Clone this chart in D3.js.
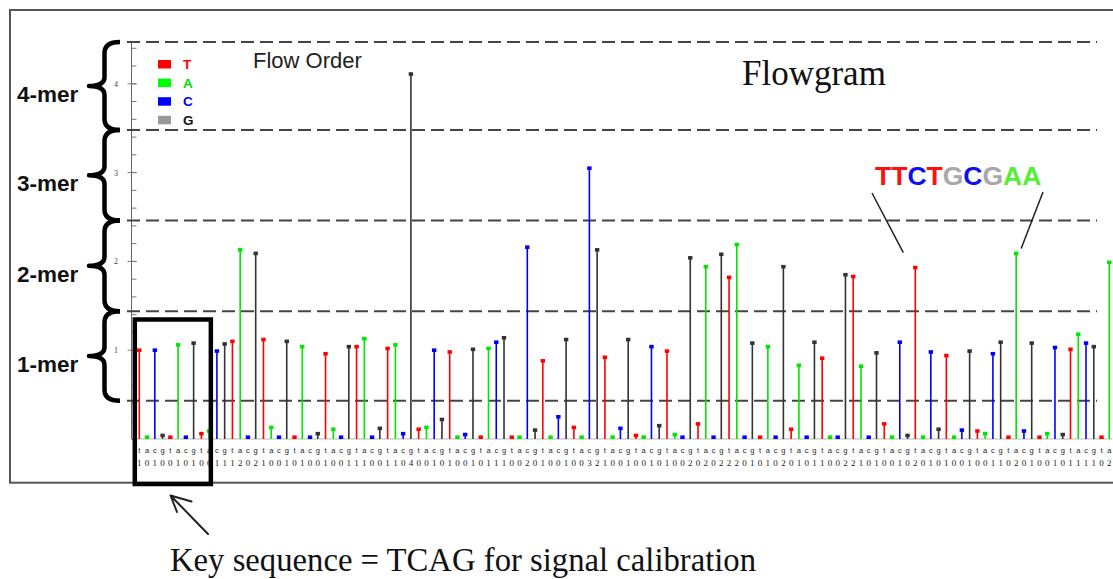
<!DOCTYPE html>
<html>
<head>
<meta charset="utf-8">
<script src="https://cdn.jsdelivr.net/npm/d3@7/dist/d3.min.js"></script>
<style>
  html, body { margin: 0; padding: 0; background: #fff; }
  svg { display: block; }
</style>
</head>
<body>
<svg id="chart" width="1113" height="579"></svg>
<script>
// Flow order of nucleotides (repeats every four flows)
const flowOrder = ["T", "A", "C", "G"];
const flowLetters = ["t", "a", "c", "g"];

// Measured signal intensity for each flow (126 flows)
const signal = [
  1.00, 0.02, 1.00, 0.04, 0.02, 1.06, 0.02, 1.08, 0.06, 0.09,
  0.99, 1.07, 1.10, 2.13, 0.02, 2.09, 1.12, 0.13, 0.02, 1.10,
  0.02, 1.04, 0.02, 0.06, 0.96, 0.11, 0.02, 1.04, 1.04, 1.13,
  0.02, 0.12, 1.02, 1.06, 0.06, 4.11, 0.11, 0.13, 1.00, 0.22,
  0.98, 0.02, 0.05, 1.01, 0.02, 1.02, 1.09, 1.14, 0.02, 0.02,
  2.16, 0.10, 0.88, 0.02, 0.25, 1.12, 0.13, 0.02, 3.05, 2.13,
  0.92, 0.02, 0.12, 1.12, 0.04, 0.02, 1.04, 0.15, 0.99, 0.05,
  0.02, 2.04, 0.17, 1.94, 0.02, 2.08, 1.82, 2.19, 0.02, 1.08,
  0.02, 1.04, 0.02, 1.94, 0.11, 0.83, 0.02, 1.09, 0.91, 0.02,
  0.02, 1.85, 1.83, 0.82, 0.02, 0.97, 0.17, 0.02, 1.09, 0.04,
  1.93, 0.02, 0.98, 0.11, 0.94, 0.02, 0.10, 0.99, 0.09, 0.06,
  0.96, 1.09, 0.02, 2.09, 0.09, 1.08, 0.02, 0.06, 1.03, 0.05,
  1.01, 1.18, 1.08, 1.04, 0.02, 1.99
];

// Y axis labels and homopolymer band boundaries
const yTickLabels = [1, 2, 3, 4];
const bandEdges = [0.43, 1.44, 2.46, 3.48, 4.47];
const merLabels = ["1-mer", "2-mer", "3-mer", "4-mer"];

// Annotated read and the key sequence flows
const readLetters = ["T", "T", "C", "T", "G", "C", "G", "A", "A"];
const readAnchors = [100, 113];
const keyFlows = [0, 9];

const colors = { T: "#ff0000", A: "#00e600", C: "#0000ff", G: "#333333" };
const legendColors = { T: "#ff0000", A: "#00ff00", C: "#0000ff", G: "#999999" };
const textColors = { T: "#ff1010", A: "#55ee33", C: "#1010ee", G: "#a8a8a8" };
const legendTextColors = { T: "#ff0000", A: "#00dd00", C: "#0000ff", G: "#111111" };

const svg = d3.select("#chart");

const x = d3.scaleLinear().domain([0, signal.length - 1]).range([139.3, 1109.3]);
const y = d3.scaleLinear().domain([0, 4.5]).range([439, 439 - 4.5 * 88.8]);

// Outer frame
svg.append("rect")
  .attr("x", 10).attr("y", 10)
  .attr("width", 1120).attr("height", 472.7)
  .attr("fill", "none").attr("stroke", "#555").attr("stroke-width", 2);

// Baseline
svg.append("line")
  .attr("x1", 131).attr("x2", 1112)
  .attr("y1", y(0)).attr("y2", y(0))
  .attr("stroke", "#bbb").attr("stroke-width", 1);

// Y axis with minor ticks every 0.2
const yAxisX = 131.5;
svg.append("line")
  .attr("x1", yAxisX).attr("x2", yAxisX)
  .attr("y1", y(4.47)).attr("y2", y(0))
  .attr("stroke", "#666").attr("stroke-width", 1);

const minorTicks = d3.range(0, 23).map(d => d * 0.2).filter(v => v <= 4.45);
svg.append("g").selectAll("line").data(minorTicks).join("line")
  .attr("x1", yAxisX).attr("x2", yAxisX + 5)
  .attr("y1", d => y(d)).attr("y2", d => y(d))
  .attr("stroke", "#777").attr("stroke-width", 1);

svg.append("g").selectAll("line").data(yTickLabels).join("line")
  .attr("x1", yAxisX - 4).attr("x2", yAxisX + 5)
  .attr("y1", d => y(d)).attr("y2", d => y(d))
  .attr("stroke", "#777").attr("stroke-width", 1);

svg.append("g").selectAll("text").data(yTickLabels).join("text")
  .attr("x", 116).attr("y", d => y(d) + 3)
  .attr("text-anchor", "middle")
  .attr("font-family", "Liberation Serif, serif")
  .attr("font-size", 8).attr("fill", "#444")
  .text(d => d);

// Homopolymer band boundaries (dashed)
svg.append("g").selectAll("line").data(bandEdges).join("line")
  .attr("x1", 127).attr("x2", 1097)
  .attr("y1", d => y(d)).attr("y2", d => y(d))
  .attr("stroke", "#444").attr("stroke-width", 2)
  .attr("stroke-dasharray", "13,6");

// Stems
const flows = signal.map((v, i) => ({ i, v, n: flowOrder[i % 4] }));
svg.append("g").selectAll("line").data(flows).join("line")
  .attr("x1", d => x(d.i)).attr("x2", d => x(d.i))
  .attr("y1", y(0)).attr("y2", d => y(d.v))
  .attr("stroke", d => colors[d.n])
  .attr("stroke-width", 1.6);

// Stem head markers
svg.append("g").selectAll("rect").data(flows).join("rect")
  .attr("x", d => x(d.i) - 2.2).attr("y", d => y(d.v) - 1.8)
  .attr("width", 4.4).attr("height", 3.6)
  .attr("fill", d => colors[d.n]);

// Flow labels: nucleotide and rounded call
svg.append("g").selectAll("text").data(flows).join("text")
  .attr("x", d => x(d.i)).attr("y", 453)
  .attr("text-anchor", "middle")
  .attr("font-family", "Liberation Sans, Arial, sans-serif")
  .attr("font-size", 7.5).attr("fill", "#222")
  .text(d => flowLetters[d.i % 4]);

svg.append("g").selectAll("text").data(flows).join("text")
  .attr("x", d => x(d.i)).attr("y", 466)
  .attr("text-anchor", "middle")
  .attr("font-family", "Liberation Serif, serif")
  .attr("font-size", 9).attr("fill", "#222")
  .text(d => Math.round(d.v));

// Curly braces with homopolymer labels
function bracePath(y1, y2) {
  const xe = 120, xv = 104.5, xt = 89;
  const ym = (y1 + y2) / 2;
  return `M${xe},${y1} Q${xv},${y1} ${xv},${y1 + 11} L${xv},${ym - 9} Q${xv},${ym} ${xt},${ym}` +
         ` Q${xv},${ym} ${xv},${ym + 9} L${xv},${y2 - 11} Q${xv},${y2} ${xe},${y2}`;
}
const bands = merLabels.map((label, k) => ({ label, lo: bandEdges[k], hi: bandEdges[k + 1] }));
svg.append("g").selectAll("path").data(bands).join("path")
  .attr("d", d => bracePath(y(d.hi), y(d.lo)))
  .attr("fill", "none").attr("stroke", "#000").attr("stroke-width", 4.5)
  .attr("stroke-linejoin", "round");

svg.append("g").selectAll("text").data(bands).join("text")
  .attr("x", 17).attr("y", d => (y(d.hi) + y(d.lo)) / 2 + 16)
  .attr("font-family", "Liberation Sans, Arial, sans-serif")
  .attr("font-weight", "bold").attr("font-size", 22.5).attr("fill", "#111")
  .text(d => d.label);

// Legend
const legend = svg.append("g");
flowOrder.forEach((n, k) => {
  const top = 60 + k * 18.6;
  legend.append("rect")
    .attr("x", 158).attr("y", top).attr("width", 13).attr("height", 8.5)
    .attr("fill", legendColors[n]);
  legend.append("text")
    .attr("x", 183).attr("y", top + 9)
    .attr("font-family", "Liberation Sans, Arial, sans-serif")
    .attr("font-weight", "bold").attr("font-size", 13.5)
    .attr("fill", legendTextColors[n])
    .text(n);
});

svg.append("text")
  .attr("x", 253).attr("y", 68)
  .attr("font-family", "Liberation Sans, Arial, sans-serif")
  .attr("font-size", 22).attr("fill", "#222")
  .text("Flow Order");

svg.append("text")
  .attr("x", 742).attr("y", 85)
  .attr("font-family", "Liberation Serif, Times New Roman, serif")
  .attr("font-size", 35).attr("fill", "#111")
  .text("Flowgram");

// Annotated read
const readText = svg.append("text")
  .attr("x", 875).attr("y", 185)
  .attr("font-family", "Liberation Sans, Arial, sans-serif")
  .attr("font-weight", "bold").attr("font-size", 26.5);
readLetters.forEach(c => {
  readText.append("tspan").attr("fill", textColors[c]).text(c);
});

const pointerOffsets = [[-12, -15], [5, -5]];
const pointerStarts = [[872, 193], [1043, 192]];
readAnchors.forEach((fi, k) => {
  svg.append("line")
    .attr("x1", pointerStarts[k][0]).attr("y1", pointerStarts[k][1])
    .attr("x2", x(fi) + pointerOffsets[k][0]).attr("y2", y(signal[fi]) + pointerOffsets[k][1])
    .attr("stroke", "#222").attr("stroke-width", 1.5);
});

// Key sequence box
svg.append("rect")
  .attr("x", x(keyFlows[0]) - 4.5).attr("y", 319.5)
  .attr("width", x(keyFlows[1]) + 1.7 - (x(keyFlows[0]) - 4.5))
  .attr("height", 484 - 319.5)
  .attr("fill", "none").attr("stroke", "#000").attr("stroke-width", 4.5);

// Arrow pointing to the key box
svg.append("path")
  .attr("d", "M208,534 L170.5,495.5 M191.5,501.5 L170.5,495.5 L177,512")
  .attr("fill", "none").attr("stroke", "#222").attr("stroke-width", 2)
  .attr("stroke-linecap", "round").attr("stroke-linejoin", "round");

svg.append("text")
  .attr("x", 170).attr("y", 571)
  .attr("font-family", "Liberation Serif, Times New Roman, serif")
  .attr("font-size", 32.7).attr("fill", "#111")
  .text("Key sequence = TCAG for signal calibration");
</script>
</body>
</html>
